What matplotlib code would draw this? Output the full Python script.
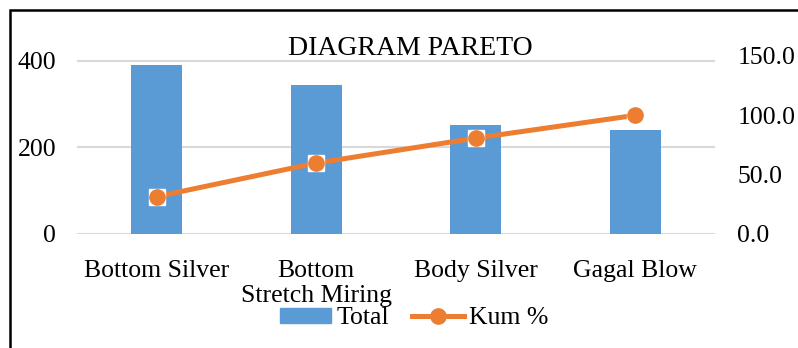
import matplotlib.pyplot as plt
from matplotlib.patches import Rectangle
from matplotlib.lines import Line2D

plt.rcParams['font.family'] = ['Liberation Serif', 'DejaVu Serif']

# data
categories = ['Bottom Silver', 'Bottom\nStretch Miring', 'Body Silver', 'Gagal Blow']
totals = [390, 344, 252, 240]
kum_pct = [31.5, 59.8, 80.8, 100.0]

blue = '#5B9BD5'
orange = '#ED7D31'
grid = '#D9D9D9'
fs = 18.5

fig = plt.figure(figsize=(7.98, 3.48), dpi=100)
ax = fig.add_axes([0.0965, 0.3276, 0.7995, 0.5115])
ax2 = ax.twinx()

x = list(range(len(categories)))
ax.bar(x, totals, width=0.32, color=blue, zorder=2)
ax.set_xlim(-0.5, len(categories) - 0.5)
ax.set_ylim(0, 411.5)
ax.set_yticks([0, 200, 400])
ax.yaxis.grid(True, color=grid, linewidth=1.5, zorder=0)
ax.set_axisbelow(True)
ax.set_xticks(x)
ax.set_xticklabels(categories, fontsize=fs, linespacing=1.15)
ax.tick_params(axis='x', length=0, pad=19)
ax.tick_params(axis='y', length=0, pad=15, labelsize=fs)
for s in ax.spines.values():
    s.set_visible(False)

ax2.plot(x, kum_pct, color=orange, linewidth=3.6, zorder=3)
ax2.plot(x, kum_pct, linestyle='none', marker='s', markersize=12,
         markerfacecolor='white', markeredgecolor='white', zorder=4)
ax2.plot(x, kum_pct, linestyle='none', marker='o', markersize=11,
         markerfacecolor=orange, markeredgecolor=orange, zorder=5)
ax2.set_ylim(0, 150)
ax2.set_yticks([0, 50, 100, 150])
ax2.set_yticklabels(['0.0', '50.0', '100.0', '150.0'])
ax2.tick_params(axis='y', length=0, pad=16, labelsize=fs)
for s in ax2.spines.values():
    s.set_visible(False)

fig.text(0.514, 0.862, 'DIAGRAM PARETO', fontsize=20, ha='center', va='center')

handles = [Rectangle((0, 0), 1, 1, color=blue),
           Line2D([0], [0], color=orange, linewidth=3.6, marker='o',
                  markersize=11)]
fig.legend(handles, ['Total', 'Kum %'], loc='center', bbox_to_anchor=(0.519, 0.085),
           ncol=2, frameon=False, fontsize=fs, handlelength=2.0, handleheight=0.5,
           handletextpad=0.2, columnspacing=0.9)

# outer border, cut off on right and bottom
fig.patches.append(Rectangle((0.0125, -0.1), 1.1, 1.071, transform=fig.transFigure,
                             fill=False, edgecolor='black', linewidth=1.8))

fig.savefig('out.png', dpi=100)
